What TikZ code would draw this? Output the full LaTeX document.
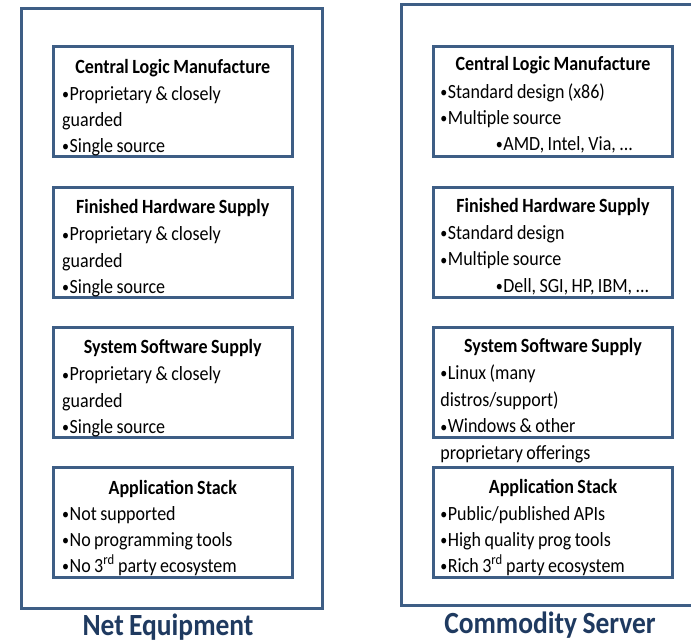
\documentclass[tikz,border=0pt]{standalone}
\usepackage{graphicx}
\usepackage{fontspec}
\setmainfont{Carlito}[WordSpace=0.85]
\definecolor{frame}{RGB}{62,94,133}
\definecolor{labelblue}{RGB}{31,58,96}
\newcommand{\tallx}[1]{\scalebox{1}[1.12]{#1}}
\newcommand{\bul}{{\fontsize{14}{14}\selectfont\raisebox{0.6pt}{•}}\hspace{0.5pt}}
\begin{document}
\begin{tikzpicture}[x=1pt,y=-1pt,
  outerbox/.style={draw=frame, line width=3pt, inner sep=0pt, anchor=north west},
  innerbox/.style={draw=frame, line width=3pt, inner sep=0pt, anchor=north west, minimum width=238.5pt, minimum height=110pt},
  boxtitle/.style={anchor=base, inner sep=0pt, font=\fontsize{18}{22}\selectfont\bfseries},
  bodyline/.style={anchor=base west, inner sep=0pt, font=\fontsize{18}{22}\selectfont},
  caption/.style={anchor=base, inner sep=0pt, text=labelblue, font=\fontsize{27.5}{32}\selectfont\bfseries}]
\useasboundingbox (0,0) rectangle (691,643);
\clip (0,0) rectangle (691,643);
% outer frames
\node[outerbox, minimum width=300.5pt, minimum height=599.2pt] (LO) at (20,7.3) {};
\node[outerbox, minimum width=320pt, minimum height=600.5pt] (RO) at (400,3) {};
% left column boxes
\node[innerbox] (L1) at (52,45) {};
\node[innerbox] (L2) at (52,185.7) {};
\node[innerbox] (L3) at (52,325.7) {};
\node[innerbox] (L4) at (52,466) {};
% right column boxes
\node[innerbox, minimum width=239.6pt] (R1) at (431.7,45) {};
\node[innerbox, minimum width=239.6pt] (R2) at (431.7,185.7) {};
\node[innerbox, minimum width=239.6pt] (R3) at (431.7,325.7) {};
\node[innerbox, minimum width=239.6pt] (R4) at (431.7,466) {};
% left texts
\node[boxtitle] (L1t) at ([yshift=-28pt]L1.north) {\tallx{Central Logic Manufacture}};
\node[bodyline] (L1a) at ([xshift=10pt,yshift=-55pt]L1.north west) {\tallx{\bul Proprietary \& closely}};
\node[bodyline] (L1b) at ([xshift=10pt,yshift=-81.3pt]L1.north west) {\tallx{guarded}};
\node[bodyline] (L1c) at ([xshift=10pt,yshift=-107.6pt]L1.north west) {\tallx{\bul Single source}};
\node[boxtitle] (L2t) at ([yshift=-28pt]L2.north) {\tallx{Finished Hardware Supply}};
\node[bodyline] (L2a) at ([xshift=10pt,yshift=-55pt]L2.north west) {\tallx{\bul Proprietary \& closely}};
\node[bodyline] (L2b) at ([xshift=10pt,yshift=-81.3pt]L2.north west) {\tallx{guarded}};
\node[bodyline] (L2c) at ([xshift=10pt,yshift=-107.6pt]L2.north west) {\tallx{\bul Single source}};
\node[boxtitle] (L3t) at ([yshift=-28pt]L3.north) {\tallx{System Software Supply}};
\node[bodyline] (L3a) at ([xshift=10pt,yshift=-55pt]L3.north west) {\tallx{\bul Proprietary \& closely}};
\node[bodyline] (L3b) at ([xshift=10pt,yshift=-81.3pt]L3.north west) {\tallx{guarded}};
\node[bodyline] (L3c) at ([xshift=10pt,yshift=-107.6pt]L3.north west) {\tallx{\bul Single source}};
\node[boxtitle] (L4t) at ([yshift=-28pt]L4.north) {\tallx{Application Stack}};
\node[bodyline] (L4a) at ([xshift=10pt,yshift=-54pt]L4.north west) {\tallx{\bul Not supported}};
\node[bodyline] (L4b) at ([xshift=10pt,yshift=-80pt]L4.north west) {\tallx{\bul No programming tools}};
\node[bodyline] (L4c) at ([xshift=10pt,yshift=-106pt]L4.north west) {\tallx{\bul No 3\textsuperscript{rd} party ecosystem}};
% right texts
\node[boxtitle] (R1t) at ([yshift=-25.5pt]R1.north) {\tallx{Central Logic Manufacture}};
\node[bodyline] (R1a) at ([xshift=8.5pt,yshift=-53pt]R1.north west) {\tallx{\bul Standard design (x86)}};
\node[bodyline] (R1b) at ([xshift=8.5pt,yshift=-79pt]R1.north west) {\tallx{\bul Multiple source}};
\node[bodyline] (R1c) at ([xshift=64pt,yshift=-105pt]R1.north west) {\tallx{\bul AMD, Intel, Via, ...}};
\node[boxtitle] (R2t) at ([yshift=-26.6pt]R2.north) {\tallx{Finished Hardware Supply}};
\node[bodyline] (R2a) at ([xshift=8.5pt,yshift=-53.6pt]R2.north west) {\tallx{\bul Standard design}};
\node[bodyline] (R2b) at ([xshift=8.5pt,yshift=-80pt]R2.north west) {\tallx{\bul Multiple source}};
\node[bodyline] (R2c) at ([xshift=64pt,yshift=-106.3pt]R2.north west) {\tallx{\bul Dell, SGI, HP, IBM, ...}};
\node[boxtitle] (R3t) at ([yshift=-27pt]R3.north) {\tallx{System Software Supply}};
\node[bodyline] (R3a) at ([xshift=8.5pt,yshift=-53.6pt]R3.north west) {\tallx{\bul Linux (many}};
\node[bodyline] (R3b) at ([xshift=8.5pt,yshift=-81pt]R3.north west) {\tallx{distros/support)}};
\node[bodyline] (R3c) at ([xshift=8.5pt,yshift=-107pt]R3.north west) {\tallx{\bul Windows \& other}};
\node[bodyline] (R3d) at ([xshift=8.5pt,yshift=-133.6pt]R3.north west) {\tallx{proprietary offerings}};
\node[boxtitle] (R4t) at ([yshift=-27pt]R4.north) {\tallx{Application Stack}};
\node[bodyline] (R4a) at ([xshift=8.5pt,yshift=-54pt]R4.north west) {\tallx{\bul Public/published APIs}};
\node[bodyline] (R4b) at ([xshift=8.5pt,yshift=-80pt]R4.north west) {\tallx{\bul High quality prog tools}};
\node[bodyline] (R4c) at ([xshift=8.5pt,yshift=-106pt]R4.north west) {\tallx{\bul Rich 3\textsuperscript{rd} party ecosystem}};
% captions
\node[caption] (LN) at (168,635) {\tallx{Net Equipment}};
\node[caption] (RN) at (550,633) {\tallx{Commodity Server}};
\end{tikzpicture}
\end{document}
